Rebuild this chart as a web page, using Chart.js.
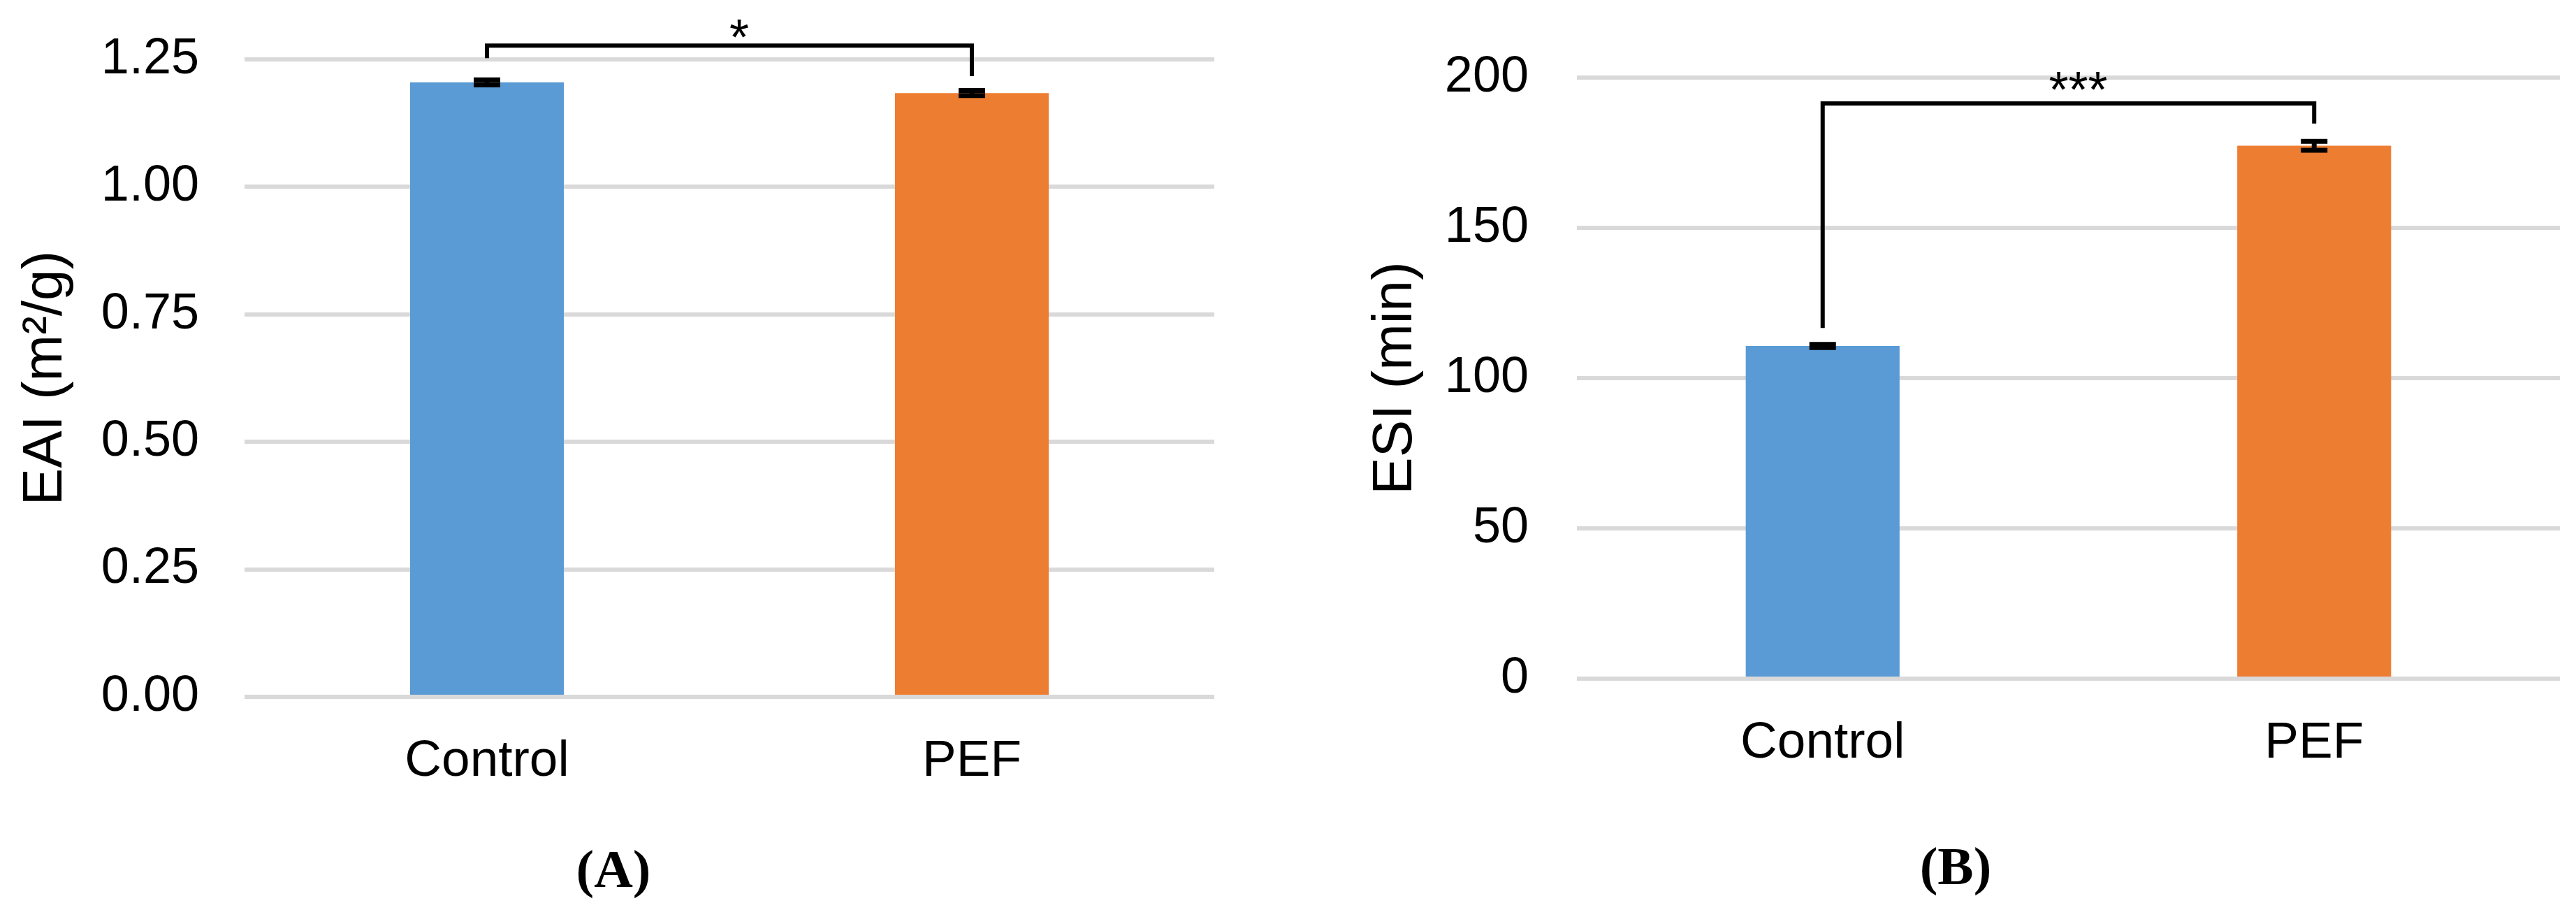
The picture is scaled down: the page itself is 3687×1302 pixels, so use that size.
<!DOCTYPE html>
<html>
<head>
<meta charset="utf-8">
<script src="https://cdn.jsdelivr.net/npm/chart.js@4.4.1/dist/chart.umd.min.js"></script>
<style>
  body { margin: 0; background: #fff; width: 3687px; height: 1302px; position: relative; overflow: hidden; }
  canvas { position: absolute; top: 0; }
  #eai { left: 0; }
  #esi { left: 1800px; }
  .panel { position: absolute; font: bold 77px "Liberation Serif", "Times New Roman", serif; line-height: 1; transform: translate(-50%, -50%); white-space: nowrap; }
</style>
</head>
<body>
<canvas id="eai" width="1800" height="1302"></canvas>
<canvas id="esi" width="1887" height="1302"></canvas>
<div class="panel" style="left:878px; top:1243px">(A)</div>
<div class="panel" style="left:2799px; top:1239px">(B)</div>
<script>
const categorias = ['Control', 'PEF'];
const colores = ['#5b9bd5', '#ed7d31'];

const eai = [1.205, 1.184];
const eaiErr = [0.005, 0.005];
const eaiTicks = [0, 0.25, 0.5, 0.75, 1.0, 1.25];

const esi = [110.7, 177.3];
const esiErr = [0.5, 1.5];
const esiTicks = [0, 50, 100, 150, 200];

// significancia: nivel de la barra horizontal, pies (izq, der) y texto
const eaiSig = { nivel: 1.277, pies: [1.2525, 1.217], texto: '*' };
const esiSig = { nivel: 191.4, pies: [116.7, 184.7], texto: '***' };

Chart.defaults.font.family = '"Liberation Sans", Arial, sans-serif';
Chart.defaults.color = '#000';

const barrasError = {
  id: 'barrasError',
  afterDatasetsDraw(chart, args, opts) {
    const ctx = chart.ctx;
    const y = chart.scales.y;
    const meta = chart.getDatasetMeta(0);
    const data = chart.data.datasets[0].data;
    ctx.save();
    ctx.strokeStyle = '#000';
    ctx.lineWidth = 7;
    meta.data.forEach((bar, i) => {
      const top = y.getPixelForValue(data[i] + opts.err[i]);
      const bot = y.getPixelForValue(data[i] - opts.err[i]);
      ctx.beginPath();
      ctx.moveTo(bar.x, top); ctx.lineTo(bar.x, bot);
      ctx.moveTo(bar.x - 19, top); ctx.lineTo(bar.x + 19, top);
      ctx.moveTo(bar.x - 19, bot); ctx.lineTo(bar.x + 19, bot);
      ctx.stroke();
    });
    // bracket
    const s = opts.sig;
    const x0 = meta.data[0].x, x1 = meta.data[1].x;
    const yl = y.getPixelForValue(s.nivel);
    ctx.lineWidth = 6;
    ctx.lineJoin = 'miter';
    ctx.beginPath();
    ctx.moveTo(x0, y.getPixelForValue(s.pies[0]));
    ctx.lineTo(x0, yl);
    ctx.lineTo(x1, yl);
    ctx.lineTo(x1, y.getPixelForValue(s.pies[1]));
    ctx.stroke();
    ctx.fillStyle = '#000';
    ctx.font = '72px "Liberation Sans", Arial, sans-serif';
    ctx.textAlign = 'center';
    ctx.textBaseline = 'alphabetic';
    ctx.fillText(s.texto, (x0 + x1) / 2 + 14, yl + opts.textoDy);
    ctx.restore();
  }
};

function grafico(id, valores, err, ticks, decimales, titulo, sig, d) {
  const ctx = document.getElementById(id).getContext('2d');
  return new Chart(ctx, {
    type: 'bar',
    data: {
      labels: categorias,
      datasets: [{
        data: valores,
        backgroundColor: colores,
        borderWidth: 0,
        barPercentage: d.barra,
        categoryPercentage: 1.0
      }]
    },
    options: {
      responsive: false,
      animation: false,
      devicePixelRatio: 1,
      layout: { padding: { top: d.arriba, right: d.derecha, left: 0, bottom: 0 } },
      scales: {
        x: {
          grid: { display: false },
          border: { display: false },
          ticks: { font: { size: 73 }, color: '#000', padding: 41 },
          afterFit: s => { s.height = d.altoX; }
        },
        y: {
          min: ticks[0],
          max: ticks[ticks.length - 1],
          afterBuildTicks: s => { s.ticks = ticks.map(v => ({ value: v })); },
          grid: { color: '#d9d9d9', lineWidth: 6, drawTicks: false },
          border: { display: false },
          ticks: {
            font: { size: 72 },
            color: '#000',
            padding: d.padTicks,
            callback: v => v.toFixed(decimales)
          },
          title: {
            display: true,
            text: titulo,
            color: '#000',
            font: { size: 80 },
            padding: { top: d.padTitulo, bottom: 0 }
          },
          afterFit: s => {
            s.width = d.anchoY;
            // el padding de los ticks no debe empujar el área del gráfico
            s.paddingTop = 44;
            s.paddingBottom = 44;
          }
        }
      },
      plugins: {
        legend: { display: false },
        tooltip: { enabled: false },
        barrasError: { err: err, sig: sig, textoDy: d.textoDy }
      }
    },
    plugins: [barrasError]
  });
}

grafico('eai', eai, eaiErr, eaiTicks, 2, 'EAI (m²/g)', eaiSig,
  { barra: 0.317, arriba: 85, derecha: 62, altoX: 305, anchoY: 350, padTicks: 65, padTitulo: 18, textoDy: 13 });

grafico('esi', esi, esiErr, esiTicks, 0, 'ESI (min)', esiSig,
  { barra: 0.313, arriba: 111, derecha: 23, altoX: 331, anchoY: 457, padTicks: 69, padTitulo: 150, textoDy: 5 });
</script>
</body>
</html>
